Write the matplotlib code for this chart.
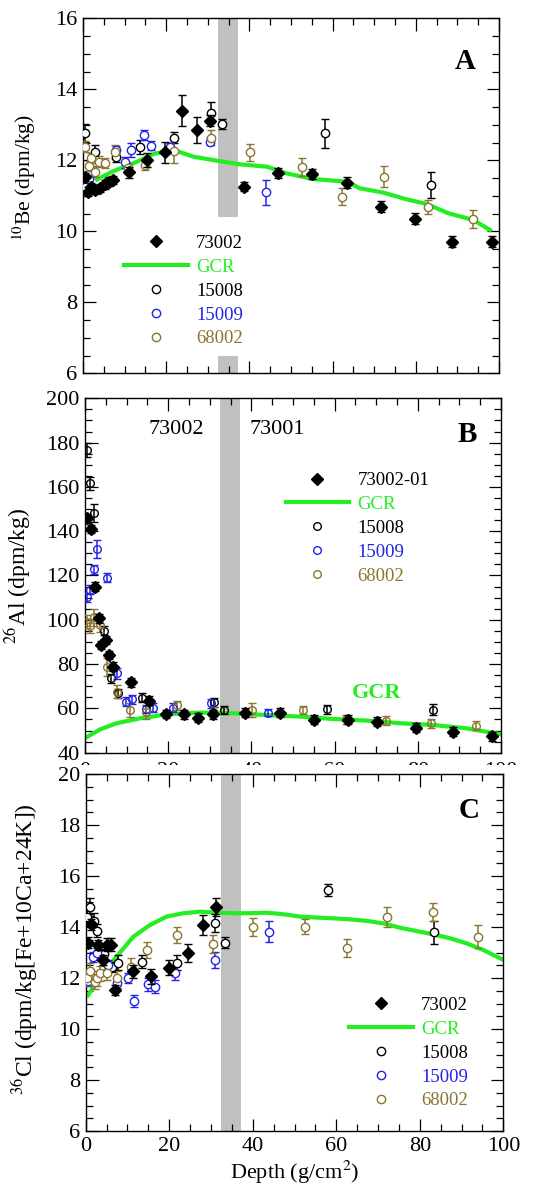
import matplotlib
matplotlib.use("Agg")
import matplotlib.pyplot as plt
from matplotlib.lines import Line2D
from matplotlib.patches import Rectangle
from matplotlib.ticker import MultipleLocator

plt.rcParams['font.family'] = ['Liberation Serif', 'DejaVu Serif']
plt.rcParams['mathtext.fontset'] = 'stix'

BLACK = '#000000'
BLUE = '#2222e8'
OLIVE = '#8b7530'
GREEN = '#22ee22'
GRAY = '#c0c0c0'

# ---------------- Panel A : 10Be ----------------
a73_x = [0.4, 1.2, 2.0, 2.9, 4.0, 5.2, 6.3, 7.3, 11.0, 15.5, 19.8, 23.8, 27.4, 30.6, 38.6, 46.8, 55.0, 63.4, 71.6, 79.8, 88.8, 98.2]
a73_y = [11.53, 11.12, 11.25, 11.17, 11.22, 11.32, 11.40, 11.45, 11.66, 12.00, 12.22, 13.40, 12.85, 13.12, 11.26, 11.64, 11.61, 11.37, 10.69, 10.36, 9.71, 9.71]
a73_e = [0.12, 0.12, 0.12, 0.12, 0.12, 0.12, 0.12, 0.12, 0.15, 0.20, 0.30, 0.43, 0.36, 0.15, 0.12, 0.15, 0.15, 0.15, 0.15, 0.15, 0.15, 0.15]
a08_x = [0.6, 3.0, 8.0, 13.8, 21.8, 30.8, 33.5, 58.2, 83.6]
a08_y = [12.76, 12.22, 12.10, 12.38, 12.64, 13.34, 13.02, 12.76, 11.30]
a08_e = [0.25, 0.20, 0.15, 0.20, 0.15, 0.30, 0.15, 0.40, 0.36]
a09_x = [0.6, 1.4, 8.0, 10.0, 11.6, 14.7, 16.3, 21.0, 30.6, 44.0]
a09_y = [11.26, 11.48, 12.30, 11.94, 12.29, 12.71, 12.41, 12.38, 12.52, 11.10]
a09_e = [0.10, 0.10, 0.10, 0.15, 0.20, 0.15, 0.12, 0.10, 0.10, 0.35]
a68_x = [0.6, 1.4, 1.9, 3.0, 3.8, 5.4, 7.6, 10.8, 14.8, 21.8, 30.8, 40.2, 52.6, 62.3, 72.3, 83.0, 93.8]
a68_y = [12.38, 11.84, 12.06, 11.68, 11.96, 11.92, 12.24, 11.77, 11.88, 12.27, 12.64, 12.22, 11.82, 10.98, 11.54, 10.68, 10.35]
a68_e = [0.15, 0.15, 0.15, 0.15, 0.15, 0.15, 0.20, 0.15, 0.15, 0.35, 0.20, 0.25, 0.25, 0.25, 0.30, 0.20, 0.25]
agcr_x = [3.4, 7.0, 12.2, 17.0, 21.8, 26.6, 32.2, 37.4, 44.2, 49.0, 55.4, 63.4, 66.6, 72.2, 77.8, 82.6, 87.8, 93.8, 97.8]
agcr_y = [11.46, 11.68, 11.92, 12.18, 12.29, 12.10, 11.99, 11.89, 11.82, 11.63, 11.47, 11.40, 11.21, 11.09, 10.90, 10.77, 10.51, 10.32, 10.04]

# ---------------- Panel B : 26Al ----------------
b73_x = [0.6, 1.4, 2.4, 3.4, 3.8, 5.0, 5.8, 6.8, 11.0, 15.4, 19.4, 23.9, 27.2, 30.7, 38.5, 46.9, 55.0, 63.3, 70.3, 79.5, 88.5, 97.8]
b73_y = [145.8, 141.0, 115.0, 100.7, 88.6, 90.9, 84.1, 78.8, 71.8, 63.5, 57.5, 57.3, 55.8, 57.3, 58.1, 58.1, 54.8, 54.8, 54.0, 51.3, 49.5, 47.5]
b73_e = [2, 2, 2, 2, 2, 2, 2, 2, 2, 2, 2, 2, 2, 2, 2, 2, 2, 2, 2, 2, 2, 2]
b08_x = [0.6, 1.2, 2.2, 4.6, 6.2, 7.9, 13.6, 31.1, 33.5, 58.1, 83.6]
b08_y = [176.7, 161.6, 148.1, 95.1, 73.6, 66.8, 64.8, 62.7, 59.3, 59.6, 59.3]
b08_e = [3, 3, 4, 2, 2, 2, 2, 2, 2, 2, 2.5]
b09_x = [0.4, 1.2, 2.2, 3.0, 5.2, 7.6, 9.9, 11.4, 14.7, 16.4, 21.2, 30.3, 43.9]
b09_y = [110.1, 113.5, 122.9, 132.0, 119.0, 75.8, 63.0, 64.2, 59.7, 60.3, 60.3, 62.3, 58.1]
b09_e = [2, 2, 2, 4, 2, 2.5, 2, 2, 2, 2, 2, 2, 1.5]
b68_x = [0.4, 1.2, 2.2, 3.6, 5.2, 7.6, 10.8, 14.7, 22.0, 30.7, 40.2, 52.5, 62.7, 72.3, 83.2, 94.0]
b68_y = [99.2, 97.2, 101.1, 97.7, 78.8, 67.6, 59.3, 58.2, 61.5, 58.5, 59.3, 59.3, 55.1, 54.5, 53.3, 52.1]
b68_e = [3, 3, 4, 3, 4, 3, 3, 3, 2, 2, 3, 2, 2, 2, 2, 2]
bgcr_x = [0.2, 3.6, 7.6, 13.2, 19.6, 27.6, 35.7, 43.7, 51.7, 59.7, 67.7, 75.7, 83.7, 91.7, 100.0]
bgcr_y = [46.8, 50.5, 53.3, 55.5, 57.3, 58.1, 57.8, 57.0, 56.3, 55.2, 54.5, 53.3, 52.5, 51.0, 48.3]

# ---------------- Panel C : 36Cl ----------------
c73_x = [0.6, 1.3, 3.0, 4.2, 5.2, 6.0, 7.0, 11.3, 15.6, 19.9, 24.5, 28.0, 31.3]
c73_y = [13.39, 14.10, 13.30, 12.72, 13.30, 13.30, 11.52, 12.26, 12.06, 12.40, 12.99, 14.07, 14.80]
c73_e = [0.2, 0.2, 0.2, 0.2, 0.25, 0.25, 0.2, 0.25, 0.3, 0.3, 0.35, 0.4, 0.35]
c08_x = [0.4, 1.0, 2.0, 2.8, 4.5, 6.4, 7.8, 13.6, 21.8, 31.0, 33.4, 58.1, 83.5]
c08_y = [14.38, 14.80, 14.25, 13.86, 12.94, 12.42, 12.60, 12.64, 12.60, 14.17, 13.39, 15.45, 13.79]
c08_e = [0.25, 0.35, 0.30, 0.25, 0.20, 0.20, 0.30, 0.25, 0.30, 0.35, 0.20, 0.25, 0.45]
c09_x = [0.6, 1.8, 2.6, 5.4, 7.4, 10.2, 11.6, 14.8, 16.6, 21.4, 31.0, 43.9]
c09_y = [11.88, 12.81, 12.97, 12.50, 11.79, 11.99, 11.10, 11.75, 11.66, 12.18, 12.71, 13.82]
c09_e = [0.2, 0.2, 0.2, 0.2, 0.2, 0.2, 0.25, 0.25, 0.25, 0.25, 0.3, 0.4]
c68_x = [0.4, 1.0, 2.2, 2.6, 3.4, 5.0, 7.4, 10.8, 14.6, 21.8, 30.6, 40.1, 52.5, 62.5, 72.2, 83.1, 94.0]
c68_y = [11.99, 12.29, 11.86, 11.99, 12.18, 12.21, 11.99, 12.44, 13.10, 13.69, 13.33, 13.99, 14.01, 13.19, 14.40, 14.58, 13.62]
c68_e = [0.3, 0.3, 0.3, 0.3, 0.3, 0.3, 0.3, 0.35, 0.3, 0.3, 0.35, 0.35, 0.3, 0.35, 0.4, 0.35, 0.45]
cgcr_x = [0.6, 3.4, 7.4, 11.4, 15.4, 19.4, 23.4, 27.4, 31.4, 35.4, 39.3, 43.3, 47.3, 51.3, 55.3, 59.3, 63.3, 67.3, 71.3, 75.3, 79.3, 83.2, 87.2, 91.2, 95.2, 100.0]
cgcr_y = [11.33, 12.05, 12.84, 13.62, 14.08, 14.41, 14.54, 14.60, 14.56, 14.54, 14.54, 14.56, 14.50, 14.41, 14.37, 14.34, 14.30, 14.24, 14.14, 13.97, 13.84, 13.71, 13.56, 13.36, 13.10, 12.71]

band = (32.4, 37.2)

W, H = 535, 1188
fig = plt.figure(figsize=(W / 100, H / 100), dpi=100)


def rect(l, t, r, b):
    return [l / W, 1 - b / H, (r - l) / W, (b - t) / H]


axA = fig.add_axes(rect(83, 18.3, 499, 373.3), zorder=0)
axB = fig.add_axes(rect(85, 398.3, 501, 752.7), zorder=1)
axC = fig.add_axes(rect(85.7, 774, 503.3, 1131), zorder=3)
# mask that hides most of panel B depth labels (as in the source)
fig.add_artist(Rectangle((0, 1 - 805 / H), 1, (805 - 765) / H, transform=fig.transFigure,
                         facecolor='white', edgecolor='none', zorder=2))

TICKFS = 16
LEGFS = 13.5
DMS = 6.5


def style(ax, ymaj, ymin, ylo, yhi):
    ax.set_xlim(0, 100)
    ax.set_ylim(ylo, yhi)
    ax.xaxis.set_major_locator(MultipleLocator(20))
    ax.xaxis.set_minor_locator(MultipleLocator(5))
    ax.yaxis.set_major_locator(MultipleLocator(ymaj))
    ax.yaxis.set_minor_locator(MultipleLocator(ymin))
    ax.tick_params(which='both', direction='in', top=True, right=True, width=0.9,
                   labelsize=TICKFS, pad=4)
    ax.tick_params(which='major', length=9)
    ax.tick_params(which='minor', length=5)
    for s in ax.spines.values():
        s.set_linewidth(1.0)


def eb(ax, x, y, e, color, marker, ms, mfc, z=3):
    ax.errorbar(x, y, yerr=e, fmt=marker, color=color, ecolor=color, ms=ms, mfc=mfc,
                mec=color, mew=1.0, elinewidth=1.1, capsize=3.2, capthick=1.1, zorder=z)


def legend(ax, first, anchor, circ_ms):
    handles = [
        Line2D([], [], ls='none', marker='D', ms=DMS, color=BLACK),
        Line2D([], [], color=GREEN, lw=3),
        Line2D([], [], ls='none', marker='o', ms=circ_ms, mfc='none', mec=BLACK, mew=1.0),
        Line2D([], [], ls='none', marker='o', ms=circ_ms, mfc='none', mec=BLUE, mew=1.0),
        Line2D([], [], ls='none', marker='o', ms=circ_ms, mfc='none', mec=OLIVE, mew=1.0),
    ]
    labels = [first, 'GCR', '15008', '15009', '68002']
    leg = ax.legend(handles, labels, loc='upper left', bbox_to_anchor=anchor, frameon=False,
                    fontsize=LEGFS, handlelength=3.4, handletextpad=0.45, labelspacing=0.36,
                    borderpad=0, borderaxespad=0)
    for t, c in zip(leg.get_texts(), [BLACK, GREEN, BLACK, BLUE, OLIVE]):
        t.set_color(c)
    leg.set_zorder(10)


# ---- A ----
style(axA, 2, 0.5, 6, 16)
axA.axvspan(band[0], band[1], ymin=0.44, ymax=1.0, color=GRAY, lw=0, zorder=1)
axA.axvspan(band[0], band[1], ymin=0.0, ymax=0.049, color=GRAY, lw=0, zorder=1)
axA.plot(agcr_x, agcr_y, color=GREEN, lw=3, zorder=2)
eb(axA, a08_x, a08_y, a08_e, BLACK, 'o', 6, 'white')
eb(axA, a09_x, a09_y, a09_e, BLUE, 'o', 6, 'white')
eb(axA, a68_x, a68_y, a68_e, OLIVE, 'o', 6, 'white')
eb(axA, a73_x, a73_y, a73_e, BLACK, 'D', DMS, BLACK, z=4)
axA.tick_params(labelbottom=False)
axA.set_ylabel('$^{10}$Be (dpm/kg)', fontsize=15.5)
axA.yaxis.set_label_coords(-0.107, 0.55)
axA.text(91.8, 14.77, 'A', fontsize=21, fontweight='bold', ha='center', va='center')
legend(axA, '73002', (0.098, 0.39), 6)

# ---- B ----
style(axB, 20, 5, 40, 200)
axB.tick_params(axis='x', pad=7)
axB.axvspan(band[0], band[1], color=GRAY, lw=0, zorder=1)
axB.plot(bgcr_x, bgcr_y, color=GREEN, lw=3, zorder=2)
eb(axB, b08_x, b08_y, b08_e, BLACK, 'o', 5.5, 'none')
eb(axB, b09_x, b09_y, b09_e, BLUE, 'o', 5.5, 'none')
eb(axB, b68_x, b68_y, b68_e, OLIVE, 'o', 5.5, 'none')
eb(axB, b73_x, b73_y, b73_e, BLACK, 'D', DMS, BLACK, z=4)
axB.set_ylabel('$^{26}$Al (dpm/kg)', fontsize=17)
axB.yaxis.set_label_coords(-0.124, 0.50)
axB.text(91.8, 183.7, 'B', fontsize=21, fontweight='bold', ha='center', va='center')
axB.text(22, 186, '73002', fontsize=16, ha='center', va='center')
axB.text(46.2, 186, '73001', fontsize=16, ha='center', va='center')
axB.text(70.1, 67, 'GCR', fontsize=16, fontweight='bold', color=GREEN, ha='center', va='center')
legend(axB, '73002-01', (0.482, 0.792), 5.5)

# ---- C ----
style(axC, 2, 0.5, 6, 20)
axC.axvspan(band[0], band[1], color=GRAY, lw=0, zorder=1)
axC.plot(cgcr_x, cgcr_y, color=GREEN, lw=3, zorder=2)
eb(axC, c08_x, c08_y, c08_e, BLACK, 'o', 6, 'white')
eb(axC, c09_x, c09_y, c09_e, BLUE, 'o', 6, 'white')
eb(axC, c68_x, c68_y, c68_e, OLIVE, 'o', 6, 'white')
eb(axC, c73_x, c73_y, c73_e, BLACK, 'D', DMS, BLACK, z=4)
axC.set_ylabel('$^{36}$Cl (dpm/kg[Fe+10Ca+24K])', fontsize=17)
axC.yaxis.set_label_coords(-0.109, 0.51)
axC.set_xlabel('Depth (g/cm$^{2}$)', fontsize=16, labelpad=2)
axC.text(91.9, 18.56, 'C', fontsize=21, fontweight='bold', ha='center', va='center')
legend(axC, '73002', (0.63, 0.376), 6)

fig.savefig('out.png', dpi=100, facecolor='white')
